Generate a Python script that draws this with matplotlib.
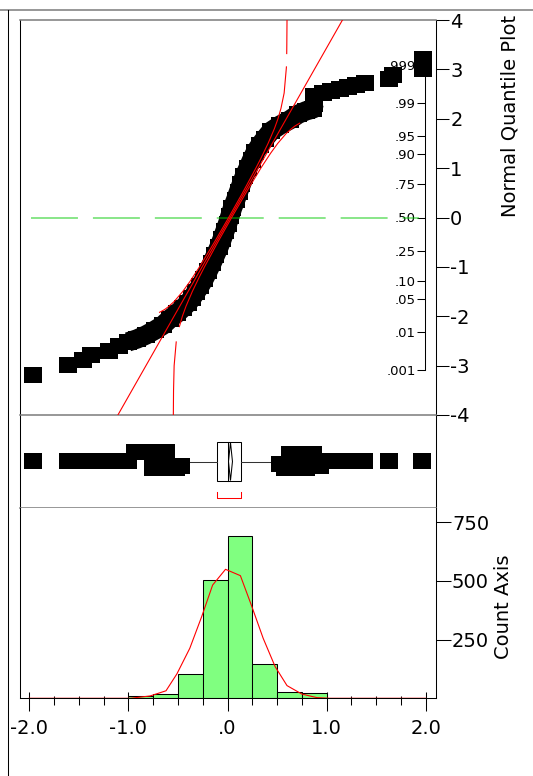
import matplotlib
matplotlib.use("Agg")
import matplotlib.pyplot as plt
from matplotlib.lines import Line2D
from matplotlib.patches import Rectangle, Polygon
from matplotlib.ticker import MultipleLocator

plt.rcParams['font.family'] = ['DejaVu Sans']
plt.rcParams['axes.unicode_minus'] = False

# ---------------- data ----------------
# normal quantile plot: data value vs normal quantile
qq_values = [-1.961, -1.613, -1.457, -1.376, -1.195, -1.089, -1.003, -0.912, -0.822, -0.731,
             -0.650, -0.580, -0.509, -0.449, -0.398, -0.358, -0.318, -0.277, -0.237, -0.197,
             -0.156, -0.121, -0.086, -0.055, -0.025, 0.000, 0.025, 0.050, 0.081, 0.111,
             0.141, 0.171, 0.207, 0.242, 0.282, 0.328, 0.378, 0.439, 0.529, 0.630,
             0.711, 0.791, 0.862, 0.872, 0.872, 0.872, 0.963, 1.043, 1.134, 1.215,
             1.295, 1.386, 1.628, 1.668, 1.971, 1.971]
qq_z = [-3.19, -2.99, -2.88, -2.79, -2.70, -2.61, -2.52, -2.46, -2.38, -2.28,
        -2.18, -2.05, -1.94, -1.83, -1.73, -1.63, -1.51, -1.39, -1.25, -1.09,
        -0.92, -0.76, -0.60, -0.44, -0.27, -0.13, 0.03, 0.19, 0.35, 0.52,
        0.68, 0.84, 1.00, 1.16, 1.33, 1.47, 1.60, 1.75, 1.87, 1.98,
        2.09, 2.16, 2.20, 2.30, 2.38, 2.47, 2.52, 2.56, 2.60, 2.64,
        2.68, 2.73, 2.80, 2.88, 3.01, 3.21]
# the densest points (from -1.003 up to 0.872) overlap into one solid band
band_first, band_last = 6, 43

fit_z = [-4.0, 4.0]
fit_values = [-1.105, 1.159]

upper_band_z_a = [-4.0, -3.5, -3.0, -2.52]
upper_band_v_a = [-0.546, -0.544, -0.538, -0.517]
upper_band_z_b = [-2.21, -2.0, -1.8, -1.5, -1.2, -1.0, -0.5, 0.0, 0.5, 1.0, 1.3, 1.5,
                  1.7, 1.8, 1.85, 1.88, 1.91]
upper_band_v_b = [-0.485, -0.455, -0.419, -0.355, -0.283, -0.232, -0.098, 0.042, 0.186,
                  0.336, 0.434, 0.506, 0.591, 0.646, 0.678, 0.702, 0.728]
lower_band_z_a = [-1.92, -1.88, -1.85, -1.8, -1.7, -1.5, -1.3, -1.0, -0.5, 0.0, 0.5, 1.0,
                  1.2, 1.5, 1.8, 2.0, 2.21, 2.52, 3.0, 3.05]
lower_band_v_a = [-0.685, -0.648, -0.624, -0.592, -0.537, -0.452, -0.380, -0.282, -0.132,
                  0.012, 0.152, 0.286, 0.337, 0.409, 0.473, 0.509, 0.539, 0.571, 0.592, 0.594]
lower_band_z_b = [3.32, 3.5, 4.0]
lower_band_v_b = [0.597, 0.598, 0.600]

median_ref_x = [-1.985, 1.93]
median_ref_z = [0.0, 0.0]

quantile_ticks = [4, 3, 2, 1, 0, -1, -2, -3, -4]
quantile_labels = ['4', '3', '2', '1', '0', '-1', '-2', '-3', '-4']
prob_labels = ['.001', '.01', '.05', '.10', '.25', '.50', '.75', '.90', '.95', '.99', '.999']
prob_z = [-3.09, -2.326, -1.645, -1.282, -0.674, 0.0, 0.674, 1.282, 1.645, 2.326, 3.09]

# outlier box plot
box_q1, box_median, box_q3 = -0.103, 0.005, 0.133
whisker_lo, whisker_hi = -0.44, 0.48
mean_value, mean_ci = 0.03, 0.02
shortest_half = [-0.103, 0.133]
outlier_values = [-1.96, -1.61, -1.46, -1.37, -1.20, -1.09, -1.00, -0.93, -0.85, -0.77,
                  -0.75, -0.69, -0.67, -0.62, -0.59, -0.52, -0.47,
                  0.53, 0.58, 0.63, 0.66, 0.70, 0.74, 0.79, 0.86, 0.87, 0.93, 0.99,
                  1.17, 1.26, 1.38, 1.63, 1.96]
outlier_jitter = [0.01, 0.01, 0.01, 0.01, 0.01, 0.01, 0.01, 0.20, 0.20, 0.20,
                  -0.14, 0.20, -0.14, 0.20, -0.14, -0.14, -0.10,
                  -0.05, -0.14, 0.16, 0.01, -0.14, 0.16, -0.14, 0.16, 0.01, -0.10, 0.01,
                  0.01, 0.01, 0.01, 0.01, 0.01]

# histogram
bin_left = [-2.0, -1.75, -1.5, -1.25, -1.0, -0.75, -0.5, -0.25, 0.0, 0.25, 0.5, 0.75,
            1.0, 1.25, 1.5, 1.75]
bin_counts = [1, 1, 2, 3, 11, 20, 104, 504, 692, 146, 27, 21, 3, 2, 2, 2]
bin_width = 0.25
normal_x = [-2.0, -0.98, -0.78, -0.62, -0.51, -0.38, -0.26, -0.15, -0.02, 0.13, 0.24,
            0.36, 0.48, 0.60, 0.75, 0.90, 1.03, 2.0]
normal_y = [0, 0, 10, 32, 104, 213, 348, 482, 549, 522, 397, 255, 135, 54, 18, 3, 0, 0]
count_ticks = [250, 500, 750]
count_labels = ['250', '500', '750']
x_major = [-2.0, -1.0, 0.0, 1.0, 2.0]
x_labels = ['-2.0', '-1.0', '.0', '1.0', '2.0']

# ---------------- layout ----------------
W, H = 533, 776
fig = plt.figure(figsize=(W / 100, H / 100), dpi=100)
fig.patch.set_facecolor('white')

def fx(px):
    return px / W

def fy(py):
    return 1 - py / H

XL, XR = 19.5, 435.5
Y_TOP, Y_QB, Y_BB, Y_HB = 20, 415, 508, 698.3
XLIM = (-2.097, 2.097)
GRAY = '#7a7a7a'
LW = 0.75

# probability axis (drawn beneath the quantile plot)
axp = fig.add_axes([fx(425), fy(Y_QB), 0.0001, (Y_QB - Y_TOP) / H])
axp.set_ylim(-4, 4)
axp.patch.set_visible(False)
for s in ['top', 'bottom', 'right']:
    axp.spines[s].set_visible(False)
axp.spines['left'].set_bounds(prob_z[0], prob_z[-1])
axp.spines['left'].set_linewidth(LW)
axp.set_xticks([])
axp.set_yticks(prob_z, prob_labels)
axp.tick_params(axis='y', direction='out', length=6, width=LW, labelsize=9.5, pad=0.5)
axp.set_zorder(0)

# quantile plot
axq = fig.add_axes([fx(XL), fy(Y_QB), (XR - XL) / W, (Y_QB - Y_TOP) / H])
axq.set_zorder(1)
axq.patch.set_visible(False)
axq.set_xlim(*XLIM)
axq.set_ylim(-4, 4)
mk = [(-1, -0.86), (1, -0.86), (1, 0.86), (-1, 0.86), (-1, -0.86)]
axq.plot(qq_values[band_first:band_last + 1], qq_z[band_first:band_last + 1],
         color='black', lw=14, solid_joinstyle='round', solid_capstyle='butt', zorder=2)
axq.plot(qq_values, qq_z, linestyle='none', marker=mk, markersize=13, color='black',
         markeredgewidth=0, zorder=2)
axq.plot(median_ref_x, median_ref_z, color='#00c800', alpha=0.5, lw=1.3,
         dashes=(26, 8.3), zorder=3)
axq.plot(fit_values, fit_z, color='red', lw=0.8, zorder=4)
for v, z in [(upper_band_v_a, upper_band_z_a), (upper_band_v_b, upper_band_z_b),
             (lower_band_v_a, lower_band_z_a), (lower_band_v_b, lower_band_z_b)]:
    axq.plot(v, z, color='red', lw=0.8, zorder=4)
axq.set_xticks([])
axq.yaxis.tick_right()
axq.set_yticks(quantile_ticks, quantile_labels)
axq.tick_params(axis='y', direction='out', length=9.1, width=LW, labelsize=14, pad=1.5)
axq.spines['top'].set_color(GRAY)
axq.spines['top'].set_linewidth(1.1)
axq.spines['bottom'].set_color(GRAY)
axq.spines['bottom'].set_linewidth(1.1)
axq.spines['left'].set_linewidth(LW)
axq.spines['right'].set_linewidth(LW)

# box plot
axb = fig.add_axes([fx(XL), fy(Y_BB), (XR - XL) / W, (Y_BB - Y_QB) / H])
axb.set_xlim(*XLIM)
axb.set_ylim(-1, 1)
axb.plot([whisker_lo, box_q1], [0, 0], color='#333333', lw=LW)
axb.plot([box_q3, whisker_hi], [0, 0], color='#333333', lw=LW)
axb.add_patch(Rectangle((box_q1, -0.41), box_q3 - box_q1, 0.82, fill=False,
                        edgecolor='black', lw=LW))
axb.plot([box_median, box_median], [-0.41, 0.41], color='black', lw=LW)
axb.add_patch(Polygon([(mean_value, 0.41), (mean_value + mean_ci, 0),
                       (mean_value, -0.41), (mean_value - mean_ci, 0)],
                      closed=True, fill=False, edgecolor='black', lw=LW))
axb.plot([shortest_half[0], shortest_half[0], shortest_half[1], shortest_half[1]],
         [-0.65, -0.79, -0.79, -0.65], color='red', lw=LW)
axb.plot(outlier_values, outlier_jitter, linestyle='none', marker=mk, markersize=13,
         color='black', markeredgewidth=0)
axb.set_xticks([])
axb.set_yticks([])
axb.spines['top'].set_visible(False)
axb.spines['bottom'].set_color(GRAY)
axb.spines['bottom'].set_linewidth(1.1)
axb.spines['left'].set_linewidth(LW)
axb.spines['right'].set_linewidth(LW)

# histogram
axh = fig.add_axes([fx(XL), fy(Y_HB), (XR - XL) / W, (Y_HB - Y_BB) / H])
axh.set_xlim(*XLIM)
axh.set_ylim(0, 810)
axh.bar(bin_left, bin_counts, width=bin_width, align='edge', color='#80ff80',
        edgecolor='black', linewidth=LW, zorder=2)
axh.plot(normal_x, normal_y, color='red', lw=0.8, zorder=3)
axh.spines['top'].set_visible(False)
axh.spines['left'].set_linewidth(LW)
axh.spines['right'].set_linewidth(LW)
axh.spines['bottom'].set_linewidth(LW)
axh.yaxis.tick_right()
axh.set_yticks(count_ticks, count_labels)
axh.tick_params(axis='y', direction='out', length=10.8, width=LW, labelsize=14, pad=1)
axh.set_xticks(x_major, x_labels)
axh.xaxis.set_minor_locator(MultipleLocator(0.25))
axh.tick_params(axis='x', which='major', direction='out', length=9.6, width=LW,
                labelsize=14, pad=5)
axh.tick_params(axis='x', which='minor', direction='out', length=4.8, width=LW)
sec = axh.secondary_xaxis(0.0)
sec.set_xticks(x_major)
sec.xaxis.set_minor_locator(MultipleLocator(0.25))
sec.tick_params(axis='x', which='major', direction='in', length=4.0, width=LW,
                labelbottom=False, labeltop=False)
sec.tick_params(axis='x', which='minor', direction='in', length=1.3, width=LW)
for s in sec.spines.values():
    s.set_visible(False)

# titles
fig.text(fx(510.5), fy(116), 'Normal Quantile Plot', rotation=90, ha='center',
         va='center', fontsize=14)
fig.text(fx(503.3), fy(606.7), 'Count Axis', rotation=90, ha='center', va='center',
         fontsize=14)

# outer frame lines
fig.add_artist(Line2D([0, 1], [fy(10), fy(10)], color=GRAY, lw=1.1))
fig.add_artist(Line2D([fx(8), fx(8)], [fy(10), 0], color='black', lw=LW))

fig.savefig('out.png', dpi=100)
